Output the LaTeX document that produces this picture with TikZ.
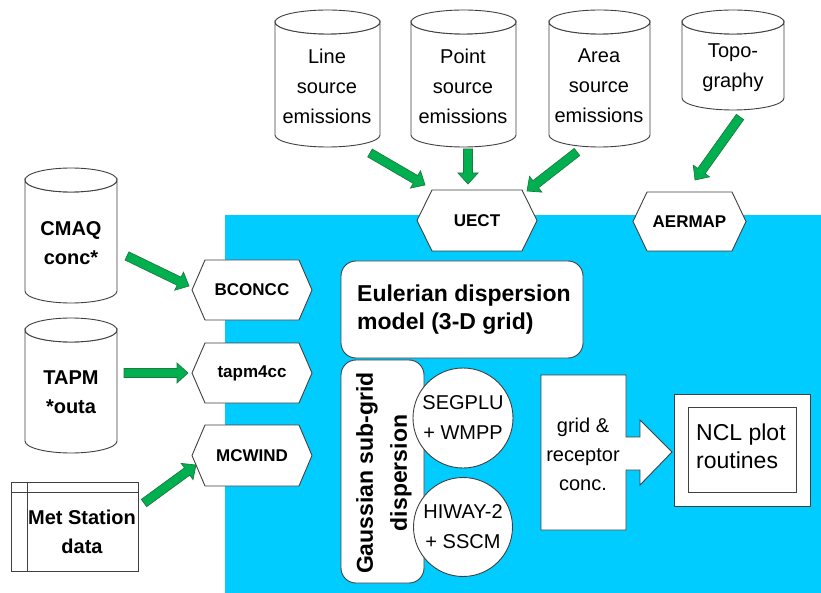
\documentclass[tikz,border=0pt]{standalone}
\usepackage{fontspec}
\setmainfont{Liberation Sans}
\usetikzlibrary{calc}
\definecolor{bluebg}{HTML}{00CCFF}
\definecolor{agreen}{HTML}{00B050}
\definecolor{agreendk}{HTML}{1E7B3C}
\definecolor{outl}{HTML}{404040}
\tikzset{
  shapeline/.style={draw=outl, line width=0.9pt, fill=white},
  garrowst/.style={fill=agreen, draw=agreendk, line width=0.7pt, line join=miter},
  txt/.style={inner sep=0pt, align=center, font=\fontsize{20}{30}\selectfont},
  btxt/.style={inner sep=0pt, align=center, font=\fontsize{20}{29}\selectfont\bfseries},
  hextxt/.style={inner sep=0pt, font=\fontsize{17}{20}\selectfont\bfseries},
  bigbtxt/.style={inner sep=0pt, align=left, font=\fontsize{23}{28}\selectfont\bfseries},
  bigtxt/.style={inner sep=0pt, align=left, font=\fontsize{23}{28}\selectfont},
}
% cylinder: name, L, T, R, B
\newcommand\cylshape[5]{%
  \pgfmathsetmacro\cylcx{(#2+#4)/2}%
  \pgfmathsetmacro\cylrx{(#4-#2)/2}%
  \path[shapeline] (#2,{#3+12}) -- (#2,{#5-12})
    arc[start angle=180,end angle=0,x radius=\cylrx,y radius=12]
    -- (#4,{#3+12})
    arc[start angle=0,end angle=180,x radius=\cylrx,y radius=12] -- cycle;
  \path[shapeline] (\cylcx,{#3+12}) ellipse[x radius=\cylrx,y radius=12];
  \coordinate (#1) at (\cylcx,{(#3+#5)/2});
}
% hexagon: name, L, T, R, B, inset, text
\newcommand\hexshape[7]{%
  \pgfmathsetmacro\hexm{(#3+#5)/2}%
  \path[shapeline] (#2,\hexm) -- ({#2+#6},#3) -- ({#4-#6},#3) -- (#4,\hexm)
    -- ({#4-#6},#5) -- ({#2+#6},#5) -- cycle;
  \node[hextxt] (#1) at ({(#2+#4)/2},\hexm) {#7};
}
% block arrow from coordinate #1 (tail) to coordinate #2 (tip)
\newcommand\garr[2]{%
  \path let \p1=(#1), \p2=(#2), \n1={atan2(\y2-\y1,\x2-\x1)},
    \n2={veclen(\x2-\x1,\y2-\y1)} in \pgfextra{\xdef\garang{\n1}\xdef\garlen{\n2}};
  \path[garrowst, shift={(#1)}, rotate=\garang] (0,4.5) -- ({\garlen-11},4.5)
    -- ({\garlen-11},10) -- (\garlen,0) -- ({\garlen-11},-10)
    -- ({\garlen-11},-4.5) -- (0,-4.5) -- cycle;
}
\begin{document}
\begin{tikzpicture}[x=1pt,y=-1pt]
\useasboundingbox (0,0) rectangle (821,593);
\fill[white] (0,0) rectangle (821,593);
% blue area
\fill[bluebg] (225,215) rectangle (821,593);

% top cylinders
\cylshape{lineC}{275}{10}{380}{147}
\node[txt] (lineT) at (327,86) {Line\\source\\emissions};
\cylshape{pointC}{411}{10}{516}{147}
\node[txt] (pointT) at (463,86) {Point\\source\\emissions};
\cylshape{areaC}{549}{10}{650}{147}
\node[txt] (areaT) at (599,86) {Area\\source\\emissions};
\cylshape{topoC}{682}{10}{784}{110}
\node[txt] (topoT) at (733,68) {Topo-\\graphy};

% left cylinders
\cylshape{cmaqC}{25}{168}{117}{303}
\node[btxt] (cmaqT) at (71,243) {CMAQ\\conc*};
\cylshape{tapmC}{25}{318}{117}{453}
\node[btxt] (tapmT) at (71,392) {TAPM\\*outa};

% met station
\path[shapeline] (11,482) rectangle (138,571);
\draw[outl, line width=0.9pt] (11,492) -- (138,492);
\draw[outl, line width=0.9pt] (27,482) -- (27,571);
\node[btxt] (metT) at (82,532) {Met Station\\data};

% hexagons
\hexshape{uect}{417}{190}{537}{251}{15}{UECT}
\hexshape{aermap}{633}{192}{746}{251}{14}{AERMAP}
\hexshape{bconcc}{192}{260}{312}{320}{13}{BCONCC}
\hexshape{tapm4cc}{192}{343}{312}{403}{13}{tapm4cc}
\hexshape{mcwind}{192}{425}{312}{486}{13}{MCWIND}

% arrow end coordinates
\coordinate (a1s) at (370,153); \coordinate (a1e) at (425,185);
\coordinate (a2s) at (468,149); \coordinate (a2e) at (468,184);
\coordinate (a3s) at (577,152); \coordinate (a3e) at (527,191);
\coordinate (a4s) at (740,117); \coordinate (a4e) at (695,180);
\coordinate (a5s) at (127,256); \coordinate (a5e) at (189,286);
\coordinate (a6s) at (124,373); \coordinate (a6e) at (188,373);
\coordinate (a7s) at (144,503); \coordinate (a7e) at (196,465);
\garr{a1s}{a1e}
\garr{a2s}{a2e}
\garr{a3s}{a3e}
\garr{a4s}{a4e}
\garr{a5s}{a5e}
\garr{a6s}{a6e}
\garr{a7s}{a7e}

% Eulerian box
\path[shapeline, rounded corners=15pt] (341,261) rectangle (583,358);
\node[bigbtxt, anchor=west] (euler) at (357,310) {Eulerian dispersion\\model (3-D grid)};

% Gaussian box
\path[shapeline, rounded corners=15pt] (341,360) rectangle (424,583);
\node[inner sep=0pt, align=center, rotate=90, font=\fontsize{23}{34}\selectfont\bfseries] (gauss) at (384,473) {Gaussian sub-grid\\dispersion};

% circles
\path[shapeline] (463,418) circle[radius=50];
\node[txt] (segplu) at (463,418) {SEGPLU\\+ WMPP};
\path[shapeline] (463,527) circle[radius=49.5];
\node[txt] (hiway) at (463,527) {HIWAY-2\\+ SSCM};

% grid & receptor box with arrow
\path[shapeline, line join=miter] (541,375) -- (626,375) -- (626,437) -- (640,437) -- (640,420)
  -- (672,452) -- (640,485) -- (640,470) -- (626,470) -- (626,530) -- (541,530) -- cycle;
\node[inner sep=0pt, align=center, font=\fontsize{20}{29}\selectfont] (grid) at (583,454) {grid \&\\receptor\\conc.};

% NCL boxes
\path[shapeline] (674,394) rectangle (810,506);
\path[shapeline] (688,407) rectangle (796,492);
\node[bigtxt, anchor=west] (ncl) at (696,446) {NCL plot\\routines};
\end{tikzpicture}
\end{document}
